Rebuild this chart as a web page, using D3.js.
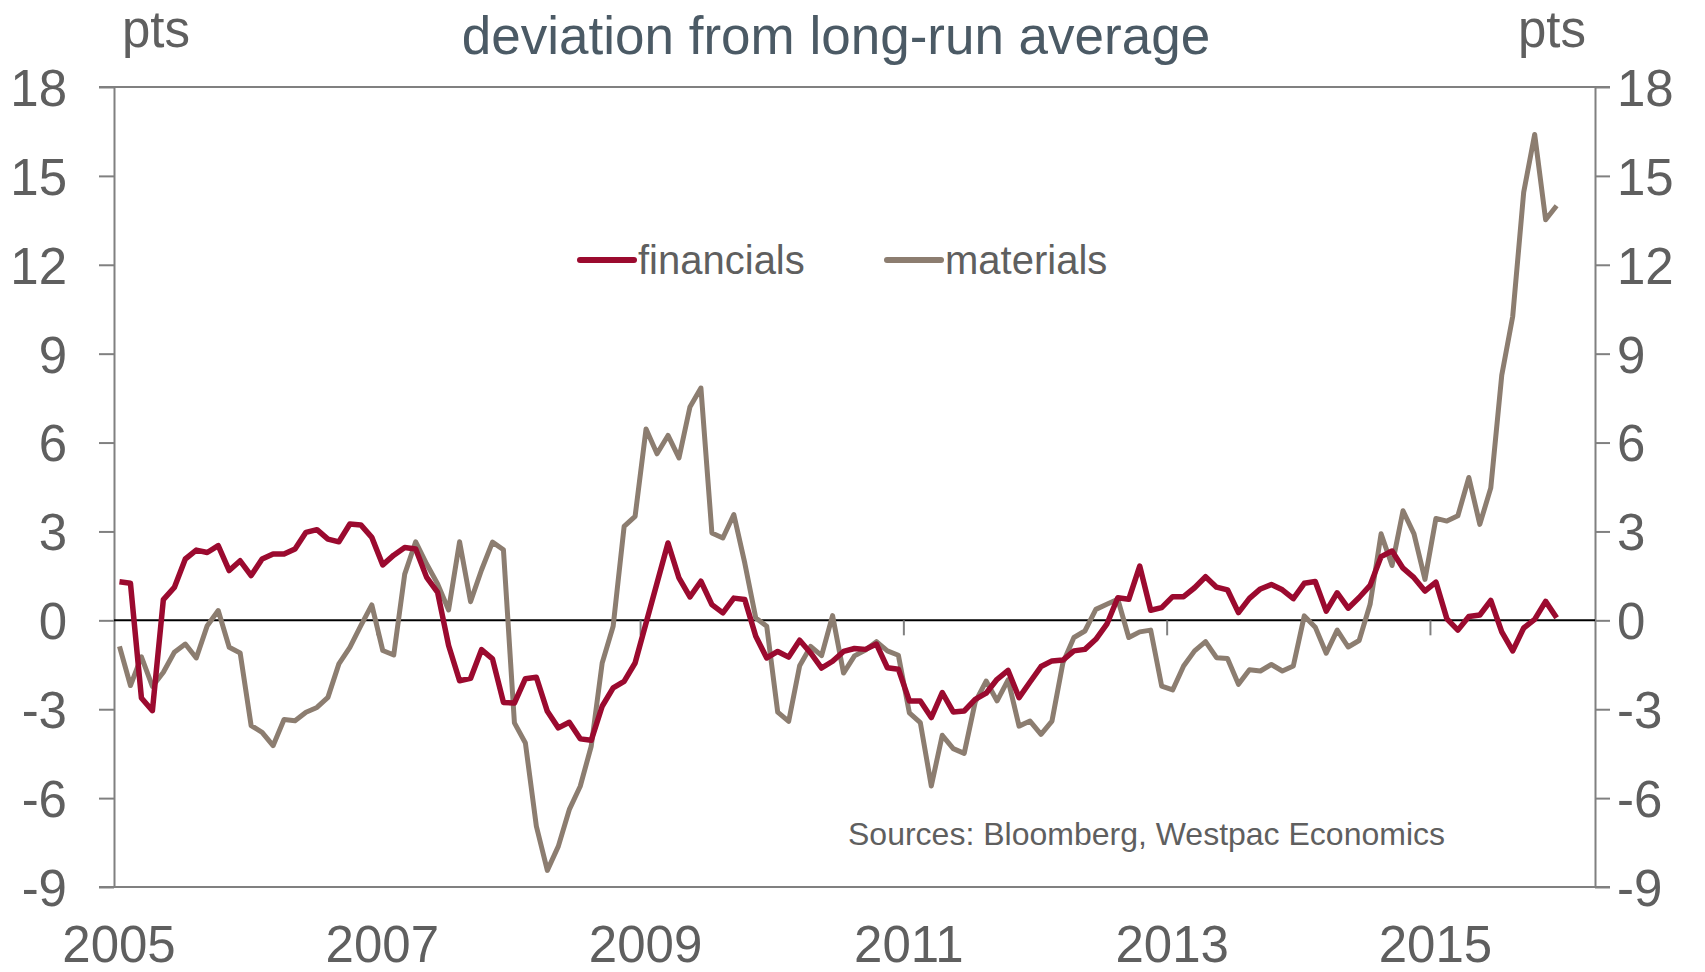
<!DOCTYPE html>
<html>
<head>
<meta charset="utf-8">
<script src="https://cdn.jsdelivr.net/npm/d3@7"></script>
<style>
  html, body { margin: 0; padding: 0; background: #fff; }
  svg { display: block; font-family: "Liberation Sans", Arial, sans-serif; }
</style>
</head>
<body>
<svg id="chart" width="1705" height="972"></svg>
<script>
// ---------- data ----------
const startMonth = "2005-01";           // first observation (monthly data)
const axisMonths = 135;                 // x-axis spans Jan 2005 .. Mar 2016
const financials = [
  1.30, 1.25, -2.62, -3.05, 0.70, 1.11, 2.07, 2.37, 2.29, 2.52, 1.68, 2.01,
  1.51, 2.07, 2.24, 2.24, 2.41, 2.97, 3.06, 2.74, 2.65, 3.25, 3.22, 2.80,
  1.87, 2.20, 2.46, 2.41, 1.45, 0.94, -0.85, -2.04, -1.96, -0.99, -1.30, -2.77,
  -2.79, -1.97, -1.92, -3.07, -3.63, -3.44, -4.00, -4.05, -2.90, -2.28, -2.06, -1.44,
  -0.09, 1.26, 2.61, 1.43, 0.79, 1.32, 0.53, 0.25, 0.75, 0.70, -0.54, -1.27,
  -1.05, -1.24, -0.67, -1.10, -1.61, -1.38, -1.05, -0.95, -0.98, -0.80, -1.60, -1.65,
  -2.72, -2.72, -3.28, -2.44, -3.09, -3.06, -2.67, -2.46, -1.99, -1.69, -2.61, -2.08,
  -1.56, -1.37, -1.34, -1.03, -0.98, -0.64, -0.13, 0.76, 0.71, 1.83, 0.34, 0.43,
  0.80, 0.80, 1.10, 1.47, 1.12, 1.03, 0.26, 0.74, 1.06, 1.21, 1.03, 0.73,
  1.25, 1.31, 0.31, 0.93, 0.41, 0.77, 1.18, 2.15, 2.34, 1.76, 1.44, 0.99,
  1.29, 0.05, -0.33, 0.13, 0.18, 0.67, -0.39, -1.03, -0.26, 0.03, 0.64, 0.09
];
const materials = [
  -0.88, -2.20, -1.23, -2.23, -1.75, -1.08, -0.80, -1.27, -0.18, 0.33, -0.91, -1.10,
  -3.55, -3.78, -4.23, -3.35, -3.39, -3.10, -2.94, -2.60, -1.47, -0.91, -0.18, 0.52,
  -1.02, -1.17, 1.56, 2.65, 1.90, 1.23, 0.35, 2.65, 0.63, 1.70, 2.64, 2.38,
  -3.46, -4.14, -6.95, -8.44, -7.63, -6.39, -5.60, -4.25, -1.44, -0.20, 3.17, 3.51,
  6.46, 5.62, 6.24, 5.48, 7.20, 7.84, 2.95, 2.78, 3.57, 1.93, 0.08, -0.20,
  -3.10, -3.41, -1.53, -0.88, -1.19, 0.16, -1.78, -1.20, -1.00, -0.72, -1.03, -1.18,
  -3.12, -3.45, -5.59, -3.88, -4.33, -4.49, -2.76, -2.05, -2.72, -2.01, -3.57, -3.40,
  -3.85, -3.40, -1.43, -0.58, -0.36, 0.37, 0.54, 0.71, -0.58, -0.39, -0.33, -2.22,
  -2.35, -1.54, -1.03, -0.72, -1.26, -1.29, -2.16, -1.67, -1.71, -1.49, -1.71, -1.54,
  0.15, -0.23, -1.11, -0.33, -0.90, -0.68, 0.54, 2.92, 1.85, 3.70, 2.92, 1.38,
  3.44, 3.35, 3.53, 4.82, 3.24, 4.47, 8.27, 10.26, 14.45, 16.40, 13.52, 13.99
];
const yTicks = [-9, -6, -3, 0, 3, 6, 9, 12, 15, 18];
const yearLabels = ["2005", "2007", "2009", "2011", "2013", "2015"];
const seriesNames = ["financials", "materials"];
const titleText = "deviation from long-run average";
const unitText = "pts";
const sourceText = "Sources: Bloomberg, Westpac Economics";

(function draw() {
  // ---------- layout ----------
  const pL = 114, pR = 1595, pT = 87, pB = 887;
  const colors = { financials: "#9b0a2f", materials: "#8c7d70" };
  const textColor = "#5f5f5f";
  const axisColor = "#808080";

  const svg = d3.select("#chart");

  const x = d3.scaleLinear().domain([0, axisMonths]).range([pL, pR]);
  const y = d3.scaleLinear().domain([-9, 18]).range([pB, pT]);
  const fmt = d => String(d);   // plain hyphen-minus like the reference

  // top border & bottom axis line
  svg.append("line").attr("x1", pL - 15).attr("x2", pR + 15)
    .attr("y1", y(18)).attr("y2", y(18)).attr("stroke", axisColor).attr("stroke-width", 2);
  svg.append("line").attr("x1", pL - 15).attr("x2", pR + 15)
    .attr("y1", y(-9)).attr("y2", y(-9)).attr("stroke", axisColor).attr("stroke-width", 2);

  // left & right axes
  const gL = svg.append("g").attr("transform", `translate(${pL},0)`)
    .call(d3.axisLeft(y).tickValues(yTicks).tickFormat(fmt).tickSize(15).tickPadding(32).tickSizeOuter(0));
  const gR = svg.append("g").attr("transform", `translate(${pR},0)`)
    .call(d3.axisRight(y).tickValues(yTicks).tickFormat(fmt).tickSize(15).tickPadding(7).tickSizeOuter(0));
  [gL, gR].forEach(g => {
    g.select(".domain").attr("stroke", axisColor).attr("stroke-width", 2);
    g.selectAll(".tick line").attr("stroke", axisColor).attr("stroke-width", 2);
    g.selectAll(".tick text").attr("fill", textColor).attr("font-size", 51)
      .attr("font-family", "Liberation Sans, Arial, sans-serif").attr("dy", "0.36em");
  });

  // zero line
  svg.append("line").attr("x1", pL).attr("x2", pR)
    .attr("y1", y(0)).attr("y2", y(0)).attr("stroke", "#000").attr("stroke-width", 2);

  // x ticks on the zero line, every two years
  const yearIdx = yearLabels.map((_, k) => k * 24);
  svg.append("g").selectAll("line").data(yearIdx.slice(1)).join("line")
    .attr("x1", d => x(d)).attr("x2", d => x(d))
    .attr("y1", y(0)).attr("y2", y(0) + 15)
    .attr("stroke", axisColor).attr("stroke-width", 2);

  // x labels
  svg.append("g").selectAll("text").data(yearLabels).join("text")
    .attr("x", (d, k) => x(yearIdx[k]) + 5)
    .attr("y", 962)
    .attr("text-anchor", "middle")
    .attr("font-size", 51).attr("fill", textColor)
    .text(d => d);

  // lines (points at mid-month)
  const line = d3.line().x((d, i) => x(i + 0.5)).y(d => y(d));
  svg.append("path").datum(materials).attr("d", line)
    .attr("fill", "none").attr("stroke", colors.materials).attr("stroke-width", 5)
    .attr("stroke-linejoin", "round");
  svg.append("path").datum(financials).attr("d", line)
    .attr("fill", "none").attr("stroke", colors.financials).attr("stroke-width", 5.5)
    .attr("stroke-linejoin", "round");

  // title & units
  svg.append("text").attr("x", 836).attr("y", 54).attr("text-anchor", "middle")
    .attr("font-size", 53).attr("fill", "#4b5a65").text(titleText);
  svg.append("text").attr("x", 122).attr("y", 47).attr("font-size", 51)
    .attr("fill", textColor).text(unitText);
  svg.append("text").attr("x", 1586).attr("y", 47).attr("text-anchor", "end")
    .attr("font-size", 51).attr("fill", textColor).text(unitText);

  // legend
  const legendPos = [{ x1: 580, x2: 634, tx: 638 }, { x1: 887, x2: 941, tx: 945 }];
  seriesNames.forEach((name, k) => {
    const p = legendPos[k];
    svg.append("line").attr("x1", p.x1).attr("x2", p.x2).attr("y1", 260).attr("y2", 260)
      .attr("stroke", colors[name]).attr("stroke-width", 6).attr("stroke-linecap", "round");
    svg.append("text").attr("x", p.tx).attr("y", 274).attr("font-size", 40)
      .attr("fill", textColor).text(name);
  });

  // source
  svg.append("text").attr("x", 848).attr("y", 845).attr("font-size", 32)
    .attr("fill", textColor).text(sourceText);
})();
</script>
</body>
</html>
